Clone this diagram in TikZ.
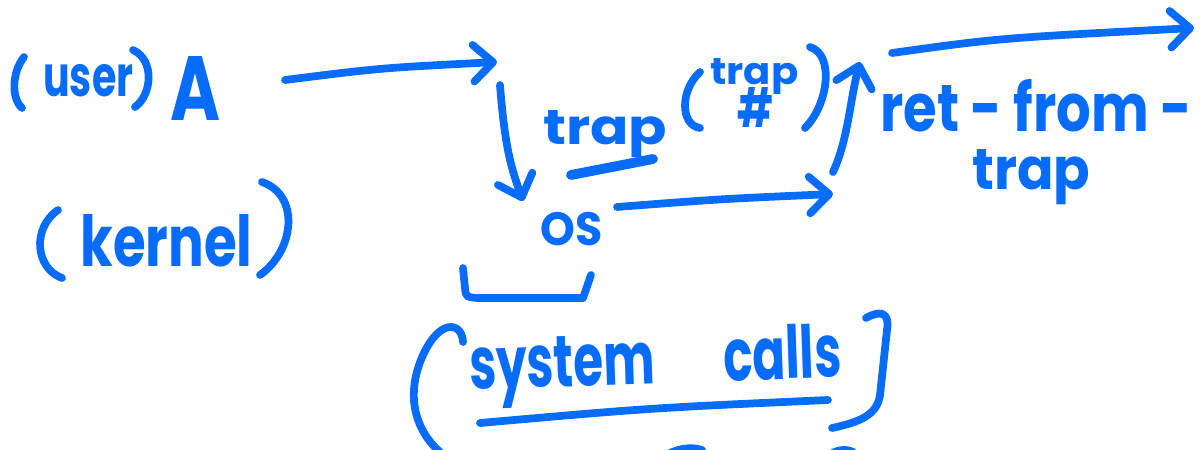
\documentclass[tikz,border=0pt]{standalone}
\usepackage{fontspec}
\setmainfont{Poppins}
\usetikzlibrary{arrows.meta}
\definecolor{ink}{RGB}{8,108,250}
\tikzset{
  pen/.style={draw=ink, line width=5.5pt, line cap=round, line join=round},
  penarrow/.style={pen, -{Straight Barb[length=14pt,width=26pt,round]}},
  word/.style={text=ink, inner sep=0pt, font=\bfseries},
}
% squeeze a word into a given width and height
\newcommand{\fitbox}[3]{\resizebox{#1}{#2}{#3}}
\begin{document}
\begin{tikzpicture}[x=0.025cm, y=-0.025cm]
\useasboundingbox (0,0) rectangle (1204,449);

% user / kernel labels
\node[word, anchor=base west] (user) at (43,96) {\fitbox{2.25cm}{0.8cm}{user}};
\draw[pen] (24,57) .. controls (12,72) and (11,98) .. (22,108);
\draw[pen] (133,50) .. controls (155,60) and (152,95) .. (135,107);
\node[word, anchor=base west] (A) at (170,120) {\fitbox{1.25cm}{1.6cm}{A}};

\node[word, anchor=base west] (kernel) at (80,266) {\fitbox{4.3cm}{1.3cm}{kernel}};
\draw[pen] (58,210) .. controls (32,228) and (35,268) .. (62,278);
\draw[pen] (262,182) .. controls (300,195) and (295,250) .. (260,275);

% OS and its bracket
\node[word] (os) at (572,229) {\fitbox{1.55cm}{0.83cm}{OS}};
\draw[pen] (463,268) -- (465,288) .. controls (466,297) .. (477,298) -- (583,298) -- (591,275);

% trap (trap #)
\node[word, anchor=base west] (trap) at (543,144) {\fitbox{3.1cm}{0.85cm}{trap}};
\draw[pen, line width=7pt] (571,175) -- (653,159);
\draw[pen] (700,72) .. controls (680,90) and (680,125) .. (700,128);
\node[word, anchor=base west] (trapsmall) at (710,84) {\fitbox{2.2cm}{0.65cm}{trap}};
\node[word] (hash) at (755,107) {\fitbox{0.9cm}{1cm}{\#}};
\draw[pen] (810,47) .. controls (835,55) and (828,105) .. (805,128);

% ret-from-trap
\node[word, anchor=base west] (ret) at (880,131) {\fitbox{7.8cm}{1.3cm}{ret - from -}};
\node[word, anchor=base west] (rettrap) at (972,189) {\fitbox{2.95cm}{1.0cm}{trap}};

% control flow arrows
\coordinate (a1) at (285,80);
\coordinate (a2) at (497,62);
\coordinate (d1) at (500,85);
\coordinate (d2) at (523,201);
\coordinate (o1) at (617,207);
\coordinate (o2) at (833,194);
\coordinate (u1) at (833,172);
\coordinate (u2) at (860,62);
\coordinate (t1) at (892,53);
\coordinate (t2) at (1194,28);
\draw[penarrow] (a1) .. controls (380,68) .. (a2);
\draw[penarrow] (d1) .. controls (505,150) and (512,170) .. (d2);
\draw[penarrow] (o1) .. controls (720,199) .. (o2);
\draw[penarrow] (u1) .. controls (848,140) and (850,100) .. (u2);
\draw[penarrow] (t1) .. controls (1000,38) .. (t2);

% system calls
\node[word, anchor=base west, rotate=2] (sys) at (470,390) {\fitbox{9.3cm}{1.35cm}{system\hspace{0.5cm}calls}};
\draw[pen] (480,423) .. controls (650,408) .. (828,400);
\draw[pen] (463,342) .. controls (462,322) and (440,318) .. (423,355) .. controls (405,395) and (415,430) .. (440,452);
\draw[pen] (866,318) .. controls (880,310) and (890,312) .. (887,330) -- (880,395) .. controls (877,415) and (860,422) .. (832,428);
% strokes cut off by the lower edge
\draw[pen] (663,457) .. controls (675,449) and (690,446) .. (702,450);
\draw[pen] (827,457) .. controls (835,450) and (845,448) .. (853,452);
\end{tikzpicture}
\end{document}
